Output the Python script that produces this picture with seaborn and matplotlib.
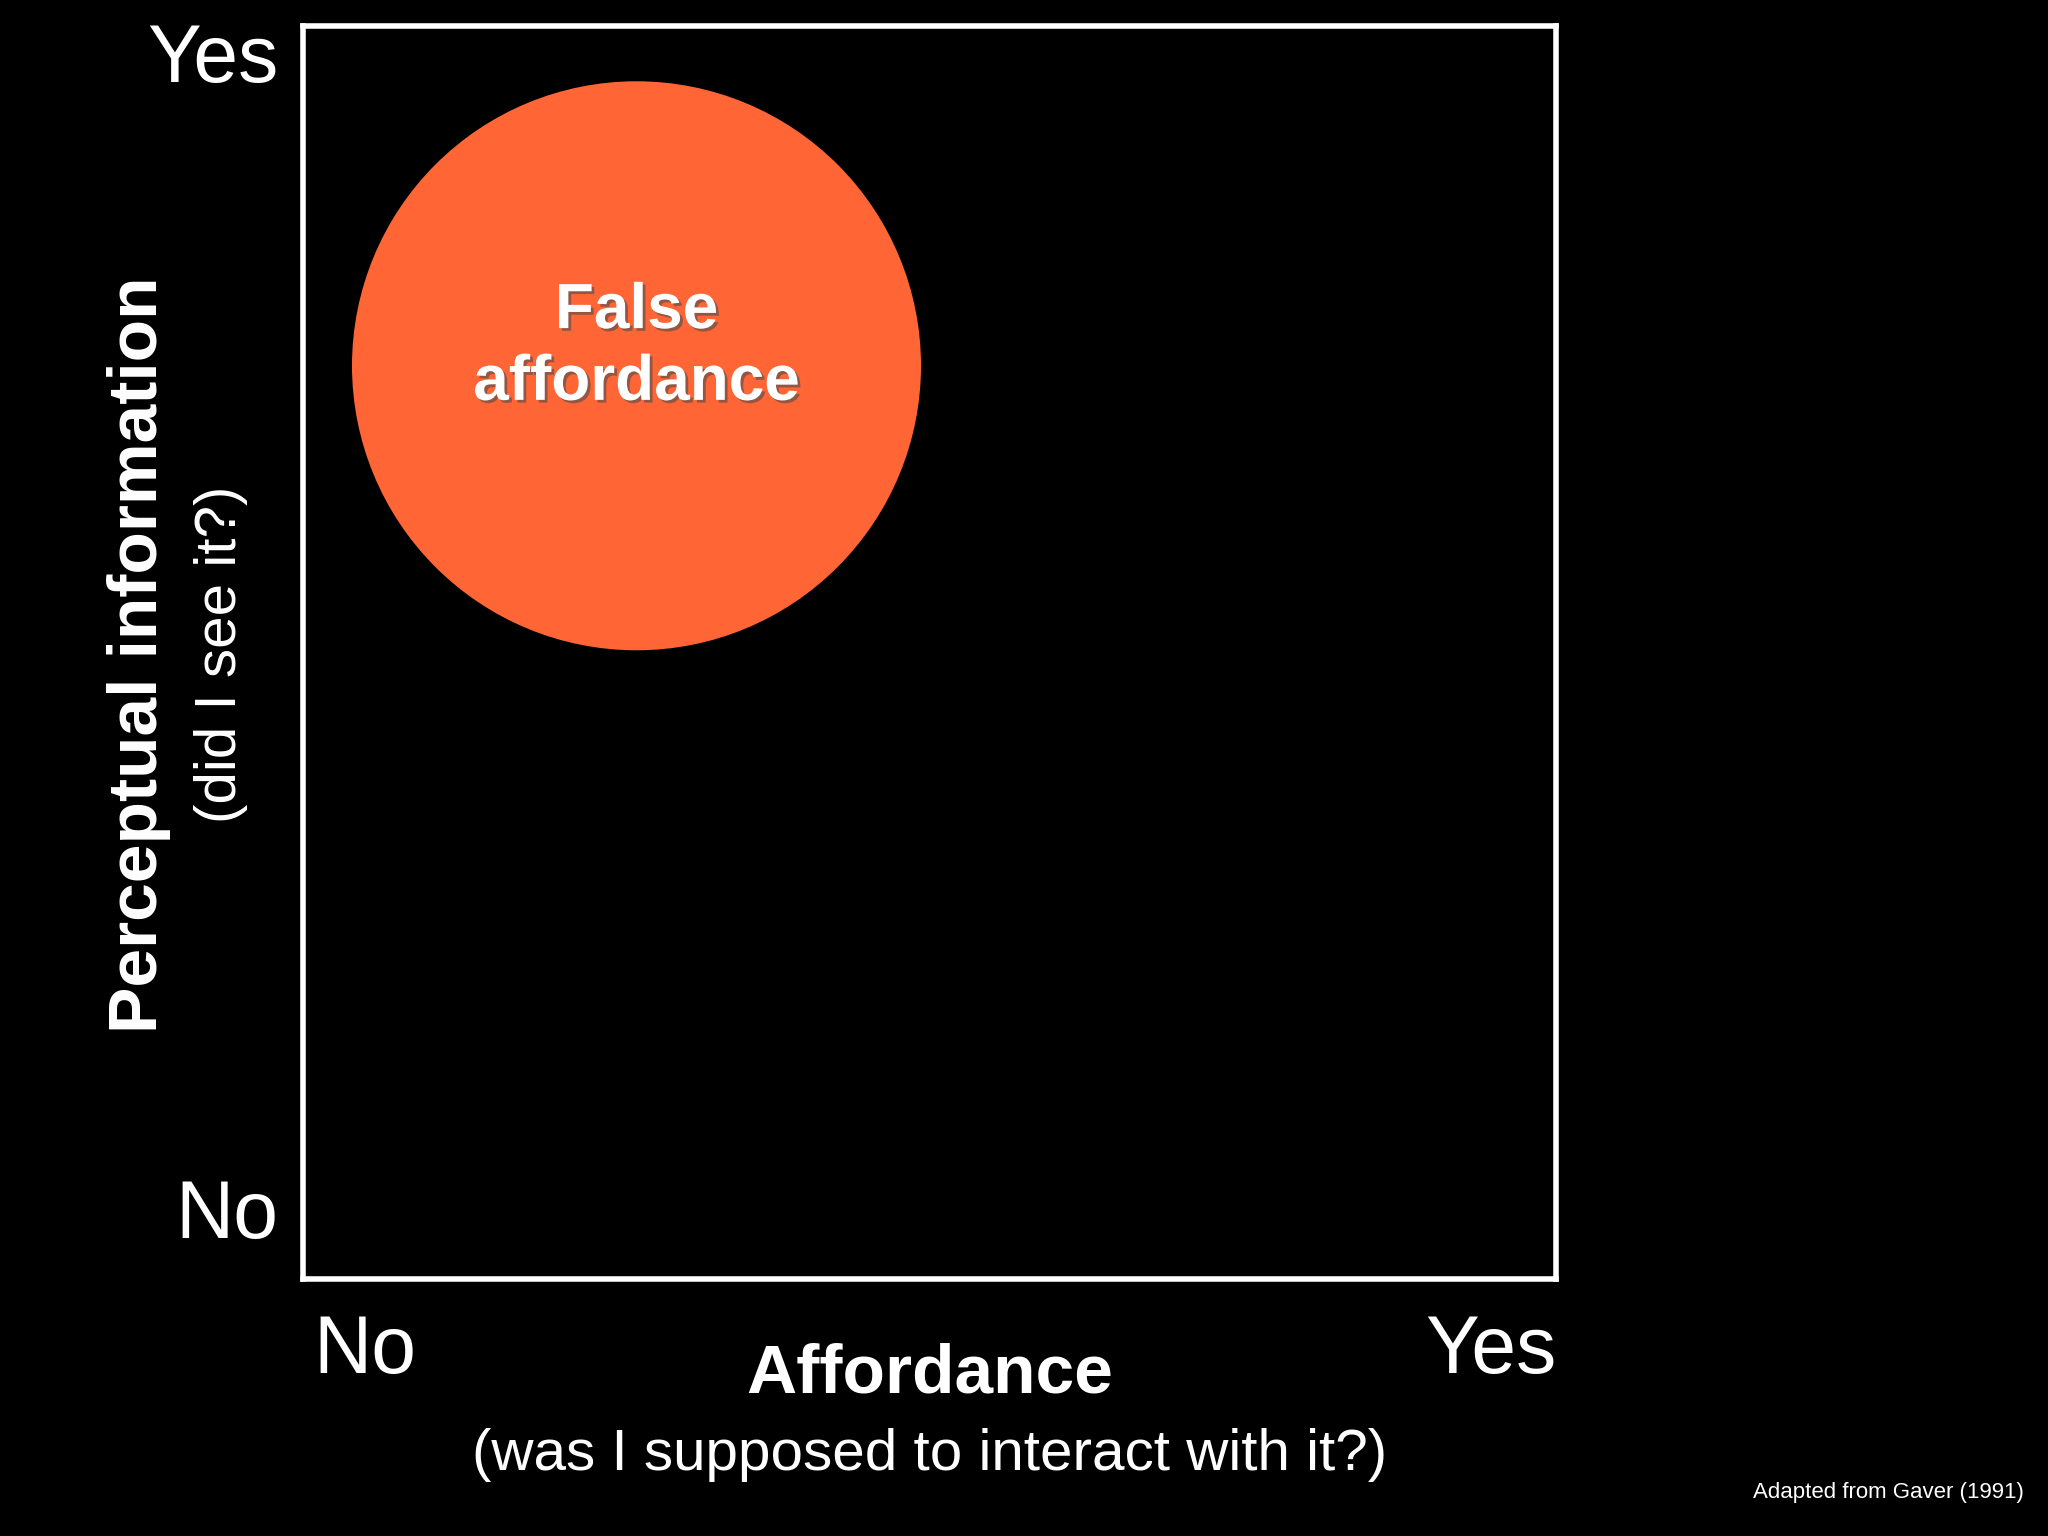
import matplotlib
matplotlib.use('Agg')
import matplotlib.pyplot as plt
import matplotlib.patheffects as pe
import seaborn as sns
import pandas as pd

# data
region_labels = ["False\naffordance"]
affordance = [0.266]
perceptual = [0.729]
radius = [0.227]
tick_labels = ["No", "Yes"]

sns.set_theme(style="dark")
plt.rcParams['font.family'] = ['Liberation Sans', 'DejaVu Sans']
narrow = ['Liberation Sans Narrow', 'Liberation Sans', 'DejaVu Sans']

fig = plt.figure(figsize=(20.48, 15.36), dpi=100, facecolor="black")
ax = fig.add_axes([0.148, 0.167, 0.612, 0.816])
ax.set_facecolor("black")
ax.set_xlim(0, 1)
ax.set_ylim(0, 1)

# marker size from radius in data units -> points
fig.canvas.draw()
px = ax.transData.transform((radius[0], 0))[0] - ax.transData.transform((0, 0))[0]
r_pt = px * 72 / fig.dpi
df = pd.DataFrame({"x": affordance, "y": perceptual})
sns.scatterplot(data=df, x="x", y="y", s=(2 * r_pt) ** 2, color="#FF6535",
                edgecolor="none", linewidth=0, ax=ax, legend=False)

shadow = [pe.withSimplePatchShadow(offset=(2, -2), alpha=0.6)]
for x, y, lab in zip(affordance, perceptual, region_labels):
    ax.text(x, y + 0.015, lab, ha="center", va="center", color="white", fontsize=46,
            fontweight="bold", family=narrow, linespacing=1.25, path_effects=shadow)

for s in ax.spines.values():
    s.set_visible(True)
    s.set_color("white")
    s.set_linewidth(4)
ax.set_xticks([])
ax.set_yticks([])
ax.set_xlabel("")
ax.set_ylabel("")

# tick-like labels
fig.text(0.136, 0.960, tick_labels[1], ha="right", va="center", color="white", fontsize=58)
fig.text(0.136, 0.208, tick_labels[0], ha="right", va="center", color="white", fontsize=58)
fig.text(0.153, 0.120, tick_labels[0], ha="left", va="center", color="white", fontsize=58)
fig.text(0.760, 0.120, tick_labels[1], ha="right", va="center", color="white", fontsize=58)

# axis titles
fig.text(0.454, 0.105, "Affordance", ha="center", va="center", color="white",
         fontsize=50, fontweight="bold", family=narrow)
fig.text(0.454, 0.053, "(was I supposed to interact with it?)", ha="center", va="center",
         color="white", fontsize=42)
fig.text(0.068, 0.574, "Perceptual information", ha="center", va="center", rotation=90,
         color="white", fontsize=50, fontweight="bold", family=narrow)
fig.text(0.108, 0.574, "(did I see it?)", ha="center", va="center", rotation=90,
         color="white", fontsize=42)

fig.text(0.988, 0.028, "Adapted from Gaver (1991)", ha="right", va="center",
         color="white", fontsize=16)

fig.savefig("out.png", dpi=100, facecolor="black")
